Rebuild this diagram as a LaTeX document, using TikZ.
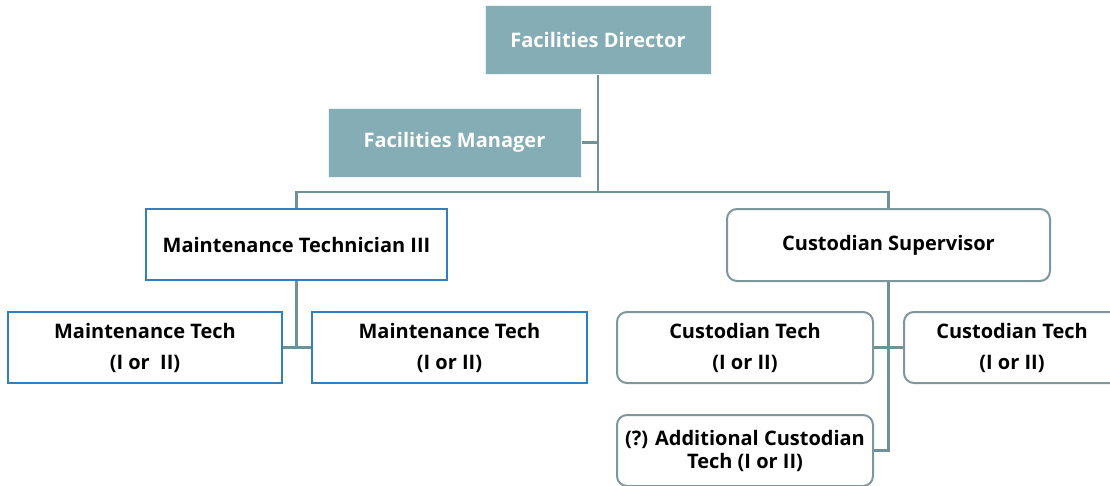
\documentclass[tikz,border=0pt]{standalone}
\usepackage{fontspec}
\setmainfont{Open Sans}
\begin{document}
\begin{tikzpicture}[x=1pt,y=-1pt,
  every node/.style={font=\bfseries\fontsize{20}{31}\selectfont, align=center, inner sep=0pt},
  headbox/.style={rectangle, fill=headfill, draw=white!85!headfill, line width=1pt, text=white},
  techbox/.style={rectangle, fill=white, draw=techblue, line width=2pt, text=black},
  roundbox/.style={rectangle, rounded corners=10pt, fill=white, draw=boxgray, line width=2pt, text=black},
  link/.style={draw=linkgray, line width=2.4pt}]
\definecolor{headfill}{HTML}{85ADB5}
\definecolor{techblue}{HTML}{2E80C4}
\definecolor{boxgray}{HTML}{7E979D}
\definecolor{linkgray}{HTML}{6F9198}
\useasboundingbox (0,0) rectangle (1110,485);
\clip (0,0) rectangle (1110,485);

% management
\node[headbox, minimum width=226pt, minimum height=69pt] (dir) at (598,39.5) {Facilities Director};
\node[headbox, minimum width=253pt, minimum height=69pt] (mgr) at (454.5,142.5) {Facilities Manager};

% second level
\node[techbox, minimum width=301pt, minimum height=71pt] (mt3) at (296.5,244.5) {Maintenance Technician III};
\node[roundbox, minimum width=323pt, minimum height=72pt] (cs) at (888.5,245) {Custodian Supervisor};

% maintenance staff
\node[techbox, minimum width=274pt, minimum height=71pt] (mtl) at (145,347.5) {Maintenance Tech\\(I or~~II)};
\node[techbox, minimum width=275pt, minimum height=71pt] (mtr) at (449.5,347.5) {Maintenance Tech\\(I or II)};

% custodial staff
\node[roundbox, minimum width=256pt, minimum height=71pt] (ctl) at (745,347.5) {Custodian Tech\\(I or II)};
\node[roundbox, minimum width=216pt, minimum height=71pt] (ctr) at (1012,347.5) {Custodian Tech\\(I or II)};
\node[roundbox, minimum width=256pt, minimum height=71pt, font=\bfseries\fontsize{20}{23}\selectfont] (act) at (745,450.5) {(?) Additional Custodian\\Tech (I or II)};

% connectors
\coordinate (bus) at (0,192);
\draw[link] (dir.south) -- (dir.south |- bus);
\draw[link] (mgr.east) -- (mgr.east -| dir.south);
\draw[link] (mt3.north) -- (mt3.north |- bus) -| (cs.north);
\draw[link] (mt3.south) -- (mt3.south |- mtl.east);
\draw[link] (mtl.east) -- (mtr.west);
\draw[link] (cs.south) |- (act.east);
\draw[link] (ctl.east) -- (ctr.west);
\end{tikzpicture}
\end{document}
